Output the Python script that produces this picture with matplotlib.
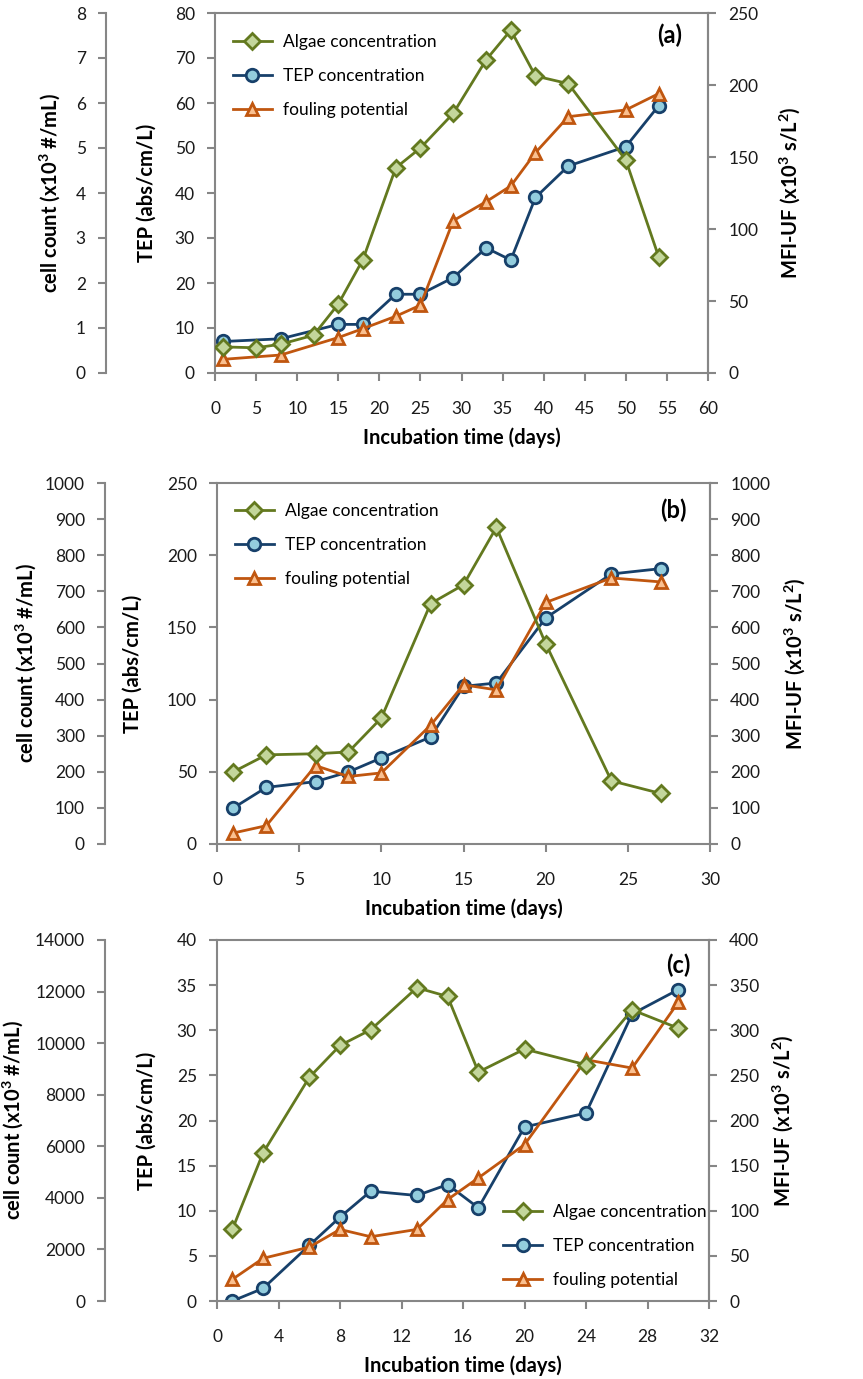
import matplotlib
matplotlib.use("Agg")
import matplotlib.pyplot as plt

plt.rcParams['font.family'] = ['Lato', 'DejaVu Sans']
plt.rcParams['mathtext.fontset'] = 'custom'
plt.rcParams['mathtext.rm'] = 'Lato'
plt.rcParams['mathtext.bf'] = 'Lato:bold'

# ---------------- data ----------------
# Panel (a)
a_algae_days = [1, 5, 8, 12, 15, 18, 22, 25, 29, 33, 36, 39, 43, 50, 54]
a_algae = [0.58, 0.56, 0.64, 0.84, 1.53, 2.52, 4.56, 5.0, 5.77, 6.96, 7.62, 6.6, 6.43, 4.73, 2.58]
a_tep_days = [1, 8, 15, 18, 22, 25, 29, 33, 36, 39, 43, 50, 54]
a_tep = [7.0, 7.6, 10.8, 10.8, 17.5, 17.5, 21.2, 27.8, 25.1, 39.0, 46.0, 50.3, 59.4]
a_mfi_days = [1, 8, 15, 18, 22, 25, 29, 33, 36, 39, 43, 50, 54]
a_mfi = [9.5, 12.5, 24.6, 30.8, 39.4, 47.1, 105.8, 119.0, 129.9, 153.0, 178.0, 182.7, 194.0]

# Panel (b)
b_days = [1, 3, 6, 8, 10, 13, 15, 17, 20, 24, 27]
b_algae = [200, 247, 250, 255, 349, 666, 718, 877, 555, 175, 140]
b_tep = [25.0, 39.2, 43.2, 49.9, 59.6, 74.1, 109.2, 111.5, 156.5, 187.0, 190.7]
b_mfi = [30.5, 50.7, 217, 187, 197, 329, 441, 427, 669, 737, 726]

# Panel (c)
c_days = [1, 3, 6, 8, 10, 13, 15, 17, 20, 24, 27, 30]
c_algae = [2780, 5750, 8670, 9910, 10520, 12150, 11810, 8880, 9770, 9160, 11290, 10580]
c_tep = [0.0, 1.4, 6.16, 9.29, 12.17, 11.69, 12.9, 10.32, 19.28, 20.83, 31.8, 34.5]
c_mfi = [24, 47.3, 59.7, 79.3, 71.2, 79.3, 112.4, 136.4, 173.3, 267.3, 258.1, 331]

series_labels = ["Algae concentration", "TEP concentration", "fouling potential"]
panel_tags = ["(a)", "(b)", "(c)"]
cell_label = r"cell count (x10$^{\mathbf{3}}$ #/mL)"
tep_label = "TEP (abs/cm/L)"
mfi_label = r"MFI-UF (x10$^{\mathbf{3}}$ s/L$^{\mathbf{2}}$)"
x_label = "Incubation time (days)"

# ---------------- style ----------------
GREEN_L, GREEN_F = '#63791F', '#C3D69B'
BLUE_L, BLUE_F = '#17406A', '#93CDDD'
ORANGE_L, ORANGE_F = '#C0560F', '#FAC090'
GREY = '#868686'
TICK_FS = 12.5
LABEL_FS = 14.5
LEG_FS = 12.5
TAG_FS = 17

fig = plt.figure(figsize=(8.63, 13.79), dpi=100)

W, H = 863.0, 1379.0
panels = [
    dict(px=(215, 708, 13, 373), outer=-0.221,
         algae=(a_algae_days, a_algae), tep=(a_tep_days, a_tep), mfi=(a_mfi_days, a_mfi),
         xlim=(0, 60), xticks=range(0, 61, 5),
         tep_lim=(0, 80), tep_ticks=range(0, 81, 10),
         cell_lim=(0, 8), cell_ticks=range(0, 9, 1),
         mfi_lim=(0, 250), mfi_ticks=range(0, 251, 50),
         lab_x=(-0.31, -0.118, 1.14),
         leg=('upper left', (0.022, 0.961)), tag_xy=(0.923, 0.939)),
    dict(px=(217, 710, 483, 844), outer=-0.227,
         algae=(b_days, b_algae), tep=(b_days, b_tep), mfi=(b_days, b_mfi),
         xlim=(0, 30), xticks=range(0, 31, 5),
         tep_lim=(0, 250), tep_ticks=range(0, 251, 50),
         cell_lim=(0, 1000), cell_ticks=range(0, 1001, 100),
         mfi_lim=(0, 1000), mfi_ticks=range(0, 1001, 100),
         lab_x=(-0.363, -0.15, 1.146),
         leg=('upper left', (0.022, 0.963)), tag_xy=(0.925, 0.925)),
    dict(px=(217, 709, 940, 1301), outer=-0.227,
         algae=(c_days, c_algae), tep=(c_days, c_tep), mfi=(c_days, c_mfi),
         xlim=(0, 32), xticks=range(0, 33, 4),
         tep_lim=(0, 40), tep_ticks=range(0, 41, 5),
         cell_lim=(0, 14000), cell_ticks=range(0, 14001, 2000),
         mfi_lim=(0, 400), mfi_ticks=range(0, 401, 50),
         lab_x=(-0.39, -0.122, 1.124),
         leg=('lower right', (1.010, 0.017)), tag_xy=(0.937, 0.93)),
]

mk = dict(markersize=9, markeredgewidth=2, linewidth=2)

for i, p in enumerate(panels):
    x0, x1, y0, y1 = p['px']
    ax = fig.add_axes([x0 / W, 1 - y1 / H, (x1 - x0) / W, (y1 - y0) / H])
    ax2 = ax.twinx()
    ax3 = ax.twinx()

    # TEP (left inner axis)
    l_tep, = ax.plot(p['tep'][0], p['tep'][1], marker='o', color=BLUE_L,
                     markerfacecolor=BLUE_F, markeredgecolor=BLUE_L, **mk)
    # MFI (right axis)
    l_mfi, = ax2.plot(p['mfi'][0], p['mfi'][1], marker='^', color=ORANGE_L,
                      markerfacecolor=ORANGE_F, markeredgecolor=ORANGE_L, **mk)
    # Algae (outer left axis)
    l_alg, = ax3.plot(p['algae'][0], p['algae'][1], marker='D', color=GREEN_L,
                      markerfacecolor=GREEN_F, markeredgecolor=GREEN_L,
                      markersize=8, markeredgewidth=2, linewidth=2)

    ax.set_xlim(*p['xlim'])
    ax.set_xticks(list(p['xticks']))
    ax.set_ylim(*p['tep_lim'])
    ax.set_yticks(list(p['tep_ticks']))
    ax2.set_ylim(*p['mfi_lim'])
    ax2.set_yticks(list(p['mfi_ticks']))
    ax3.set_ylim(*p['cell_lim'])
    ax3.set_yticks(list(p['cell_ticks']))

    # outer left axis for cell counts
    ax3.yaxis.set_label_position('left')
    ax3.yaxis.set_ticks_position('left')
    ax3.spines['left'].set_position(('axes', p['outer']))
    for s in ['top', 'right', 'bottom']:
        ax3.spines[s].set_visible(False)
    ax3.spines['left'].set_visible(True)

    for a in (ax, ax2, ax3):
        for s in a.spines.values():
            s.set_color(GREY)
            s.set_linewidth(1.5)
        a.tick_params(axis='both', direction='out', length=6, width=1.5,
                      color=GREY, labelsize=TICK_FS, labelcolor='#1a1a1a', pad=8.5)
    ax2.spines['left'].set_visible(False)
    ax2.spines['bottom'].set_visible(False)
    ax2.spines['top'].set_visible(False)

    ax.tick_params(axis='x', pad=14.4)

    ax.set_ylabel(tep_label, fontsize=LABEL_FS, fontweight='bold')
    ax3.set_ylabel(cell_label, fontsize=LABEL_FS, fontweight='bold')
    ax2.set_ylabel(mfi_label, fontsize=LABEL_FS, fontweight='bold')
    ax3.yaxis.set_label_coords(p['lab_x'][0], 0.5)
    ax.yaxis.set_label_coords(p['lab_x'][1], 0.5)
    ax2.yaxis.set_label_coords(p['lab_x'][2], 0.5)

    ax.set_xlabel(x_label, fontsize=LABEL_FS, fontweight='bold', labelpad=7.6)

    ax3.text(p['tag_xy'][0], p['tag_xy'][1], panel_tags[i], transform=ax.transAxes,
             ha='center', va='center', fontsize=TAG_FS, fontweight='bold')

    handles = [l_alg, l_tep, l_mfi]
    ax3.legend(handles, series_labels, loc=p['leg'][0],
               bbox_to_anchor=p['leg'][1], frameon=False, fontsize=LEG_FS,
               handlelength=2.25, handletextpad=0.63, labelspacing=1.03,
               borderaxespad=0.0)

fig.savefig("out.png", dpi=100)
